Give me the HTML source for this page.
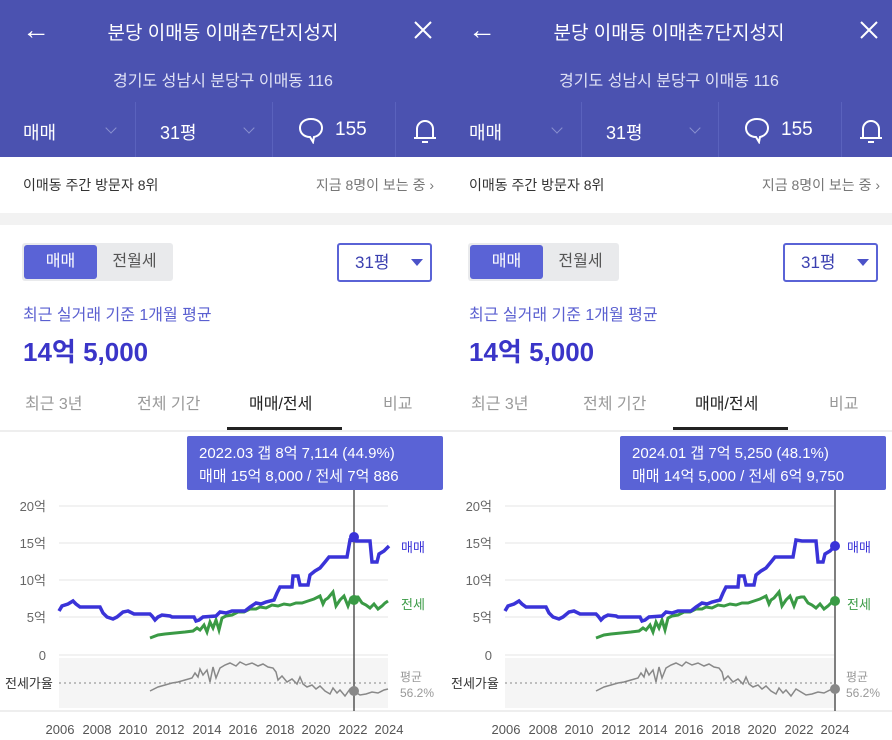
<!DOCTYPE html>
<html><head><meta charset="utf-8"><style>
*{margin:0;padding:0;box-sizing:border-box}
body{width:892px;height:740px;overflow:hidden;background:#fff;font-family:"Liberation Sans","Noto Sans CJK KR",sans-serif;position:relative}
.p{position:absolute;top:0;width:446px;height:740px;overflow:hidden;background:#fff}
.a{position:absolute;white-space:nowrap}
.hd{position:absolute;left:0;top:0;width:446px;height:157px;background:#4b52b0}
.sep{position:absolute;top:102px;width:1px;height:55px;background:#5a62bd}
.chev{position:absolute;top:124px;width:8px;height:8px;border-right:1.5px solid #8a90d0;border-bottom:1.5px solid #8a90d0;transform:rotate(45deg)}
</style></head><body>
<div class="p" style="left:0">
<div class="hd"></div>
<div class="a" style="left:22px;top:14px;color:#fff;font-size:28px;line-height:32px">&#8592;</div>
<div class="a" style="left:0;width:446px;text-align:center;top:18px;color:#fff;font-size:19px">분당 이매동 이매촌7단지성지</div>
<svg class="a" style="left:413px;top:20px" width="20" height="20"><path d="M2 2L18 18M18 2L2 18" stroke="#fff" stroke-width="2"/></svg>
<div class="a" style="left:0;width:446px;text-align:center;top:67px;color:#e0e2f5;font-size:16px">경기도 성남시 분당구 이매동 116</div>
<div class="sep" style="left:135px"></div><div class="sep" style="left:272px"></div><div class="sep" style="left:395px"></div>
<div class="a" style="left:23px;top:119px;color:#fff;font-size:18px">매매</div><div class="chev" style="left:107px"></div>
<div class="a" style="left:160px;top:119px;color:#fff;font-size:18px">31평</div><div class="chev" style="left:245px"></div>
<svg class="a" style="left:298px;top:116px" width="26" height="28"><path d="M13 3C6 3 2 7 2 12s4 9 10 9l3 5 1-5c5-1 8-5 8-9 0-5-4-9-11-9z" fill="none" stroke="#fff" stroke-width="2"/></svg>
<div class="a" style="left:335px;top:119px;color:#fff;font-size:19px">155</div>
<svg class="a" style="left:412px;top:116px" width="26" height="30"><path d="M5 21V13a8 8 0 0116 0v8M2 22h22M10 26h6" fill="none" stroke="#fff" stroke-width="2"/></svg>
<div class="a" style="left:23px;top:175px;color:#333;font-size:14px">이매동 주간 방문자 8위</div>
<div class="a" style="right:12px;top:175px;color:#777;font-size:14px">지금 8명이 보는 중 &#8250;</div>
<div class="a" style="left:0;top:213px;width:446px;height:12px;background:#f2f2f2"></div>
<div class="a" style="left:22px;top:243px;width:151px;height:38px;background:#e9eaec;border-radius:3px"></div>
<div class="a" style="left:24px;top:245px;width:73px;height:34px;background:#5a63d6;border-radius:3px;color:#fff;font-size:16px;text-align:center;line-height:34px">매매</div>
<div class="a" style="left:97px;top:245px;width:75px;height:34px;color:#555;font-size:16px;text-align:center;line-height:34px">전월세</div>
<div class="a" style="left:337px;top:243px;width:95px;height:39px;border:2px solid #5a63d6;border-radius:3px;color:#3a3fb0;font-size:17px;line-height:35px;padding-left:16px">31평<span style="position:absolute;left:72px;top:14px;width:0;height:0;border-left:6px solid transparent;border-right:6px solid transparent;border-top:7px solid #4b52c8"></span></div>
<div class="a" style="left:23px;top:301px;color:#5a5fd0;font-size:16px">최근 실거래 기준 1개월 평균</div>
<div class="a" style="left:23px;top:332px;color:#3a35c8;font-size:26px;font-weight:bold">14억 5,000</div>
<div class="a" style="left:25px;top:390px;color:#999;font-size:16px">최근 3년</div>
<div class="a" style="left:137px;top:390px;color:#999;font-size:16px">전체 기간</div>
<div class="a" style="left:249px;top:390px;color:#222;font-size:16px">매매/전세</div>
<div class="a" style="left:383px;top:390px;color:#999;font-size:16px">비교</div>
<div class="a" style="left:0;top:430px;width:446px;height:2px;background:#eee"></div>
<div class="a" style="left:227px;top:427px;width:115px;height:3px;background:#222"></div>
<svg class="a" style="left:0;top:0" width="446" height="740" font-family="Liberation Sans,Noto Sans CJK KR,sans-serif">
<rect x="59" y="658" width="329" height="50" fill="#f5f5f5"/>
<g stroke="#eee" stroke-width="1.5"><line x1="59" y1="506" x2="388" y2="506"/><line x1="59" y1="543" x2="388" y2="543"/><line x1="59" y1="580" x2="388" y2="580"/><line x1="59" y1="617" x2="388" y2="617"/><line x1="59" y1="655" x2="388" y2="655"/></g>
<line x1="0" y1="711" x2="446" y2="711" stroke="#eee" stroke-width="2"/>
<g fill="#666" font-size="13" text-anchor="end"><text x="46" y="511">20억</text><text x="46" y="548">15억</text><text x="46" y="585">10억</text><text x="46" y="622">5억</text><text x="46" y="660">0</text></g>
<text x="5" y="688" font-size="13" fill="#333">전세가율</text>
<line x1="59" y1="683" x2="388" y2="683" stroke="#888" stroke-dasharray="2,3"/>
<text x="400" y="681" font-size="12" fill="#999">평균</text><text x="400" y="697" font-size="12" fill="#999">56.2%</text>
<g fill="#555" font-size="13" text-anchor="middle"><text x="60" y="734">2006</text><text x="97" y="734">2008</text><text x="133" y="734">2010</text><text x="170" y="734">2012</text><text x="207" y="734">2014</text><text x="243" y="734">2016</text><text x="280" y="734">2018</text><text x="316" y="734">2020</text><text x="353" y="734">2022</text><text x="389" y="734">2024</text></g>
<polyline fill="none" stroke="#888" stroke-width="1.5" points="150,691 158,687 165,685 172,683 178,682 185,680 192,678 195,673 198,677 200,669 203,675 207,670 210,682 213,667 216,678 220,668 225,665 230,663 236,666 240,662 246,665 252,663 258,666 263,664 268,667 273,668 276,672 278,680 282,676 287,682 292,679 297,684 300,677 303,684 307,687 312,685 316,689 320,686 325,691 330,694 333,688 337,693 340,690 345,696 350,689 355,692 360,695 366,694 372,692 378,693 384,690 388,689"/>
<polyline fill="none" stroke="#3a9a45" stroke-width="3" points="150,638 158,635 165,634 175,633 185,632 193,631 197,628 200,630 204,625 207,632 210,622 213,628 216,620 219,630 222,618 226,616 232,615 238,612 244,612 250,609 256,609 260,607 266,608 272,605 278,606 284,604 290,605 296,603 302,603 308,601 314,599 320,596 323,604 325,600 328,598 333,592 336,606 340,600 344,596 348,606 351,598 355,597 358,597 362,603 366,605 370,608 374,604 378,609 382,606 385,603 388,601"/>
<polyline fill="none" stroke="#3a33d8" stroke-width="3.5" points="59,611 62,606 68,604 73,601 76,604 80,607 100,607 103,613 107,617 113,619 117,617 123,612 128,611 134,614 150,614 152,616 155,620 158,617 162,615 170,616 172,617 194,617 196,621 199,620 203,617 216,616 220,612 226,613 232,611 245,611 250,607 256,603 261,604 266,602 274,600 277,593 280,587 292,587 293,576 298,576 300,585 308,585 310,575 315,571 320,568 325,562 329,557 347,557 350,540 356,541 370,541 372,562 377,562 379,554 384,551 389,546"/>
<text x="401" y="552" font-size="13" fill="#3a33d8">매매</text>
<text x="401" y="609" font-size="13" fill="#3a9a45">전세</text>
<line x1="354" y1="490" x2="354" y2="711" stroke="#555" stroke-width="1.5"/>
<circle cx="354" cy="537" r="5" fill="#3a33d8"/><circle cx="354" cy="600" r="5" fill="#3a9a45"/><circle cx="354" cy="691" r="5" fill="#888"/>
<rect x="187" y="436" width="256" height="54" rx="2" fill="#5a63d6"/>
<text x="199" y="458" font-size="15" fill="#fff">2022.03  갭 8억 7,114 (44.9%)</text>
<text x="199" y="481" font-size="15" fill="#fff">매매 15억 8,000 / 전세 7억 886</text>
</svg>
</div>

<div class="p" style="left:446px">
<div class="hd"></div>
<div class="a" style="left:22px;top:14px;color:#fff;font-size:28px;line-height:32px">&#8592;</div>
<div class="a" style="left:0;width:446px;text-align:center;top:18px;color:#fff;font-size:19px">분당 이매동 이매촌7단지성지</div>
<svg class="a" style="left:413px;top:20px" width="20" height="20"><path d="M2 2L18 18M18 2L2 18" stroke="#fff" stroke-width="2"/></svg>
<div class="a" style="left:0;width:446px;text-align:center;top:67px;color:#e0e2f5;font-size:16px">경기도 성남시 분당구 이매동 116</div>
<div class="sep" style="left:135px"></div><div class="sep" style="left:272px"></div><div class="sep" style="left:395px"></div>
<div class="a" style="left:23px;top:119px;color:#fff;font-size:18px">매매</div><div class="chev" style="left:107px"></div>
<div class="a" style="left:160px;top:119px;color:#fff;font-size:18px">31평</div><div class="chev" style="left:245px"></div>
<svg class="a" style="left:298px;top:116px" width="26" height="28"><path d="M13 3C6 3 2 7 2 12s4 9 10 9l3 5 1-5c5-1 8-5 8-9 0-5-4-9-11-9z" fill="none" stroke="#fff" stroke-width="2"/></svg>
<div class="a" style="left:335px;top:119px;color:#fff;font-size:19px">155</div>
<svg class="a" style="left:412px;top:116px" width="26" height="30"><path d="M5 21V13a8 8 0 0116 0v8M2 22h22M10 26h6" fill="none" stroke="#fff" stroke-width="2"/></svg>
<div class="a" style="left:23px;top:175px;color:#333;font-size:14px">이매동 주간 방문자 8위</div>
<div class="a" style="right:12px;top:175px;color:#777;font-size:14px">지금 8명이 보는 중 &#8250;</div>
<div class="a" style="left:0;top:213px;width:446px;height:12px;background:#f2f2f2"></div>
<div class="a" style="left:22px;top:243px;width:151px;height:38px;background:#e9eaec;border-radius:3px"></div>
<div class="a" style="left:24px;top:245px;width:73px;height:34px;background:#5a63d6;border-radius:3px;color:#fff;font-size:16px;text-align:center;line-height:34px">매매</div>
<div class="a" style="left:97px;top:245px;width:75px;height:34px;color:#555;font-size:16px;text-align:center;line-height:34px">전월세</div>
<div class="a" style="left:337px;top:243px;width:95px;height:39px;border:2px solid #5a63d6;border-radius:3px;color:#3a3fb0;font-size:17px;line-height:35px;padding-left:16px">31평<span style="position:absolute;left:72px;top:14px;width:0;height:0;border-left:6px solid transparent;border-right:6px solid transparent;border-top:7px solid #4b52c8"></span></div>
<div class="a" style="left:23px;top:301px;color:#5a5fd0;font-size:16px">최근 실거래 기준 1개월 평균</div>
<div class="a" style="left:23px;top:332px;color:#3a35c8;font-size:26px;font-weight:bold">14억 5,000</div>
<div class="a" style="left:25px;top:390px;color:#999;font-size:16px">최근 3년</div>
<div class="a" style="left:137px;top:390px;color:#999;font-size:16px">전체 기간</div>
<div class="a" style="left:249px;top:390px;color:#222;font-size:16px">매매/전세</div>
<div class="a" style="left:383px;top:390px;color:#999;font-size:16px">비교</div>
<div class="a" style="left:0;top:430px;width:446px;height:2px;background:#eee"></div>
<div class="a" style="left:227px;top:427px;width:115px;height:3px;background:#222"></div>
<svg class="a" style="left:0;top:0" width="446" height="740" font-family="Liberation Sans,Noto Sans CJK KR,sans-serif">
<rect x="59" y="658" width="329" height="50" fill="#f5f5f5"/>
<g stroke="#eee" stroke-width="1.5"><line x1="59" y1="506" x2="388" y2="506"/><line x1="59" y1="543" x2="388" y2="543"/><line x1="59" y1="580" x2="388" y2="580"/><line x1="59" y1="617" x2="388" y2="617"/><line x1="59" y1="655" x2="388" y2="655"/></g>
<line x1="0" y1="711" x2="446" y2="711" stroke="#eee" stroke-width="2"/>
<g fill="#666" font-size="13" text-anchor="end"><text x="46" y="511">20억</text><text x="46" y="548">15억</text><text x="46" y="585">10억</text><text x="46" y="622">5억</text><text x="46" y="660">0</text></g>
<text x="5" y="688" font-size="13" fill="#333">전세가율</text>
<line x1="59" y1="683" x2="388" y2="683" stroke="#888" stroke-dasharray="2,3"/>
<text x="400" y="681" font-size="12" fill="#999">평균</text><text x="400" y="697" font-size="12" fill="#999">56.2%</text>
<g fill="#555" font-size="13" text-anchor="middle"><text x="60" y="734">2006</text><text x="97" y="734">2008</text><text x="133" y="734">2010</text><text x="170" y="734">2012</text><text x="207" y="734">2014</text><text x="243" y="734">2016</text><text x="280" y="734">2018</text><text x="316" y="734">2020</text><text x="353" y="734">2022</text><text x="389" y="734">2024</text></g>
<polyline fill="none" stroke="#888" stroke-width="1.5" points="150,691 158,687 165,685 172,683 178,682 185,680 192,678 195,673 198,677 200,669 203,675 207,670 210,682 213,667 216,678 220,668 225,665 230,663 236,666 240,662 246,665 252,663 258,666 263,664 268,667 273,668 276,672 278,680 282,676 287,682 292,679 297,684 300,677 303,684 307,687 312,685 316,689 320,686 325,691 330,694 333,688 337,693 340,690 345,696 350,689 355,692 360,695 366,694 372,692 378,693 384,690 388,689"/>
<polyline fill="none" stroke="#3a9a45" stroke-width="3" points="150,638 158,635 165,634 175,633 185,632 193,631 197,628 200,630 204,625 207,632 210,622 213,628 216,620 219,630 222,618 226,616 232,615 238,612 244,612 250,609 256,609 260,607 266,608 272,605 278,606 284,604 290,605 296,603 302,603 308,601 314,599 320,596 323,604 325,600 328,598 333,592 336,606 340,600 344,596 348,606 351,598 355,597 358,597 362,603 366,605 370,608 374,604 378,609 382,606 385,603 388,601"/>
<polyline fill="none" stroke="#3a33d8" stroke-width="3.5" points="59,611 62,606 68,604 73,601 76,604 80,607 100,607 103,613 107,617 113,619 117,617 123,612 128,611 134,614 150,614 152,616 155,620 158,617 162,615 170,616 172,617 194,617 196,621 199,620 203,617 216,616 220,612 226,613 232,611 245,611 250,607 256,603 261,604 266,602 274,600 277,593 280,587 292,587 293,576 298,576 300,585 308,585 310,575 315,571 320,568 325,562 329,557 347,557 350,540 356,541 370,541 372,562 377,562 379,554 384,551 389,546"/>
<text x="401" y="552" font-size="13" fill="#3a33d8">매매</text>
<text x="401" y="609" font-size="13" fill="#3a9a45">전세</text>
<line x1="389" y1="490" x2="389" y2="711" stroke="#555" stroke-width="1.5"/>
<circle cx="389" cy="546" r="5" fill="#3a33d8"/><circle cx="389" cy="601" r="5" fill="#3a9a45"/><circle cx="389" cy="689" r="5" fill="#888"/>
<rect x="174" y="436" width="266" height="54" rx="2" fill="#5a63d6"/>
<text x="186" y="458" font-size="15" fill="#fff">2024.01  갭 7억 5,250 (48.1%)</text>
<text x="186" y="481" font-size="15" fill="#fff">매매 14억 5,000 / 전세 6억 9,750</text>
</svg>
</div>
</body></html>
